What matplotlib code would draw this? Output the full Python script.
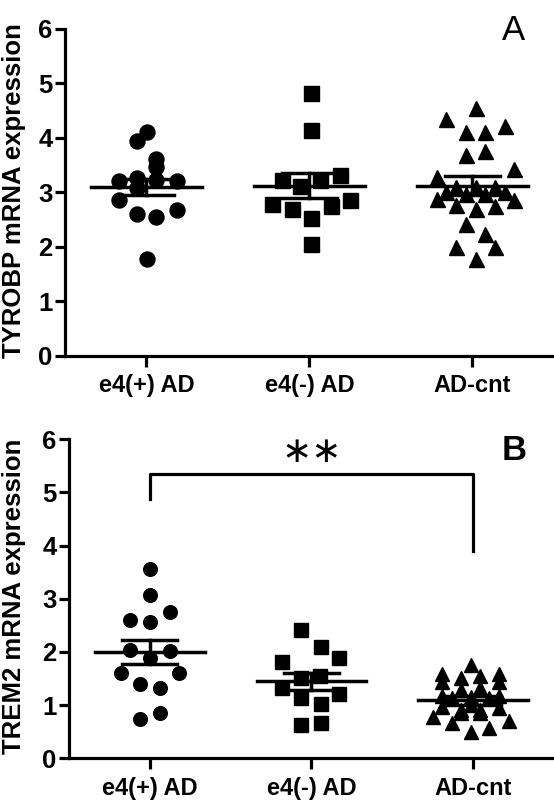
import matplotlib.pyplot as plt

plt.rcParams["font.family"] = ["Liberation Sans", "DejaVu Sans"]
plt.rcParams["font.weight"] = "bold"

groups = ["e4(+) AD", "e4(-) AD", "AD-cnt"]
markers = ["o", "s", "^"]

# Panel A - TYROBP
tyrobp_e4pos = [4.10, 3.95, 3.62, 3.46, 3.21, 3.26, 3.21, 3.07, 3.22, 2.86, 2.60, 2.54, 2.67, 1.77]
tyrobp_e4pos_dx = [0.005, -0.056, 0.06, 0.06, -0.17, -0.056, 0.185, -0.056, 0.06, -0.17, -0.056, 0.06, 0.185, 0.005]
tyrobp_e4neg = [4.83, 4.15, 3.23, 3.12, 3.23, 3.32, 2.78, 2.69, 2.52, 2.75, 2.85, 2.05]
tyrobp_e4neg_dx = [0.007, 0.007, -0.17, -0.06, 0.065, 0.19, -0.23, -0.11, 0.007, 0.13, 0.25, 0.007]
tyrobp_cnt = [4.54, 4.34, 4.11, 4.10, 4.21, 3.69, 3.75, 3.28, 3.42, 2.87, 2.77, 2.69, 2.75,
              2.85, 2.42, 2.23, 2.00, 1.99, 1.77, 3.09, 3.10, 3.10, 3.01, 2.97, 2.97, 3.01]
tyrobp_cnt_dx = [0.02, -0.16, -0.04, 0.077, 0.2, -0.04, 0.077, -0.22, 0.255, -0.22, -0.1, 0.02, 0.14,
                 0.255, -0.04, 0.077, -0.1, 0.14, 0.02, -0.1, 0.02, 0.14, -0.16, -0.04, 0.077, 0.2]
tyrobp_mean = [3.10, 3.12, 3.12]
tyrobp_sem = [0.15, 0.23, 0.17]

# Panel B - TREM2
trem2_e4pos = [3.55, 3.07, 2.75, 2.61, 2.57, 2.04, 2.02, 1.88, 1.61, 1.60, 1.40, 1.32, 0.74, 0.85]
trem2_e4pos_dx = [0.0, 0.0, 0.125, -0.12, 0.0, -0.12, 0.125, 0.0, -0.18, 0.18, -0.06, 0.06, -0.06, 0.06]
trem2_e4neg = [2.41, 2.09, 1.88, 1.82, 1.51, 1.55, 1.32, 1.21, 1.13, 1.02, 0.63, 0.67]
trem2_e4neg_dx = [-0.067, 0.057, 0.17, -0.18, -0.067, 0.05, -0.18, 0.17, -0.067, 0.057, -0.067, 0.057]
trem2_cnt = [1.76, 1.59, 1.44, 1.51, 1.54, 1.59, 1.44, 1.29, 1.32, 0.97, 0.91, 0.85, 0.91,
             0.85, 0.94, 0.77, 0.67, 0.50, 0.57, 0.71, 1.13, 1.16, 1.13, 1.18, 1.18, 1.01]
trem2_cnt_dx = [-0.015, -0.195, -0.195, -0.077, 0.04, 0.16, 0.16, -0.077, 0.04, -0.195, -0.077, -0.077, 0.04,
                0.04, 0.16, -0.25, -0.13, -0.015, 0.1, 0.22, -0.13, -0.015, 0.1, -0.195, 0.16, -0.015]
trem2_mean = [2.00, 1.45, 1.09]
trem2_sem = [0.23, 0.16, 0.09]

# significance bracket e4(+) AD vs AD-cnt
bracket_y = [4.87, 5.34, 5.34, 3.90]


def draw_panel(ax, values, offsets, means, sems, msize):
    for i, (vals, dx) in enumerate(zip(values, offsets)):
        xs = [i + 1 + d for d in dx]
        ax.plot(xs, vals, linestyle="none", marker=markers[i], markersize=msize,
                color="black", zorder=2)
    for i, (m, s) in enumerate(zip(means, sems)):
        x = i + 1
        ax.plot([x - 0.34, x + 0.34], [m, m], color="black", lw=2.5, zorder=3)
        ax.plot([x - 0.17, x + 0.17], [m + s, m + s], color="black", lw=2.5, zorder=3)
        ax.plot([x - 0.17, x + 0.17], [m - s, m - s], color="black", lw=2.5, zorder=3)
        ax.plot([x, x], [m - s, m + s], color="black", lw=2.5, zorder=3)

    ax.set_xlim(0.5, 3.5)
    ax.set_ylim(0, 6)
    ax.set_yticks(range(7))
    ax.set_xticks([1, 2, 3])
    ax.set_xticklabels(groups)
    for side in ["top", "right"]:
        ax.spines[side].set_visible(False)
    for side in ["left", "bottom"]:
        ax.spines[side].set_linewidth(2.3)
    ax.tick_params(axis="y", length=7, width=2.3, labelsize=18.5, pad=2)
    ax.tick_params(axis="x", length=8, width=2.3, labelsize=17, pad=5)


fig = plt.figure(figsize=(5.54, 8.10), dpi=100)

ax1 = fig.add_axes([0.1173, 0.5611, 0.8827, 0.4031])
draw_panel(ax1, [tyrobp_e4pos, tyrobp_e4neg, tyrobp_cnt],
           [tyrobp_e4pos_dx, tyrobp_e4neg_dx, tyrobp_cnt_dx],
           tyrobp_mean, tyrobp_sem, 10.8)
fig.text(14 / 554, 0.765, "TYROBP mRNA expression", rotation=90,
         ha="center", va="center", fontsize=18.5)
fig.text(514 / 554, 1 - 30 / 810, "A", ha="center", va="center",
         fontsize=25, fontweight="normal")

ax2 = fig.add_axes([0.1245, 0.0636, 0.8755, 0.3944])
draw_panel(ax2, [trem2_e4pos, trem2_e4neg, trem2_cnt],
           [trem2_e4pos_dx, trem2_e4neg_dx, trem2_cnt_dx],
           trem2_mean, trem2_sem, 9.8)
ax2.plot([1, 1, 3, 3], bracket_y, color="black", lw=2.3, zorder=3)
ax2.text(2, 5.76, "\u2217\u2217", ha="center", va="center", fontsize=26,
         fontweight="normal", family="DejaVu Sans")
fig.text(14 / 554, 0.264, "TREM2 mRNA expression", rotation=90,
         ha="center", va="center", fontsize=18.5)
fig.text(514 / 554, 1 - 451 / 810, "B", ha="center", va="center", fontsize=25)

plt.savefig("out.png", dpi=100)
